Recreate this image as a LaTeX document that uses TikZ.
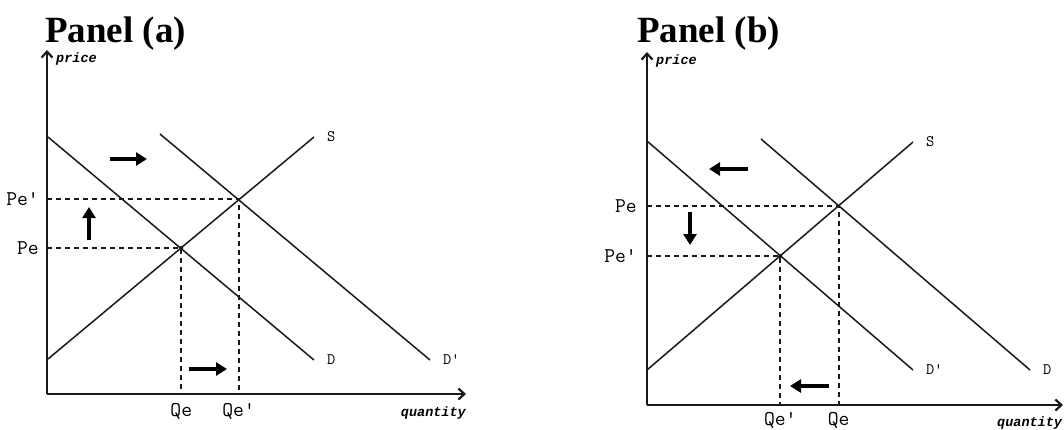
\documentclass[tikz,border=0pt]{standalone}
\usepackage{fontspec}
\setmainfont{Liberation Serif}
\newfontfamily\axisfont{Liberation Mono}
\usepackage{tikz}
\usetikzlibrary{arrows.meta, positioning, calc}
\definecolor{mydark}{RGB}{25,25,25}
\tikzset{
  axis/.style={-{Straight Barb[length=6pt,width=11pt]}, line width=2.2pt, color=mydark},
  curve/.style={line width=1.5pt, color=mydark},
  guide/.style={dash pattern=on 5pt off 4pt, line width=1.9pt, color=mydark},
  shiftarrow/.style={-{Triangle[length=11pt,width=13pt]}, line width=3.6pt, color=black},
  ticklabel/.style={font=\ttfamily\fontsize{21}{21}\selectfont, inner sep=1pt},
  curvelabel/.style={font=\ttfamily\fontsize{16}{16}\selectfont, inner sep=1pt},
  axislabel/.style={font=\axisfont\bfseries\itshape\fontsize{13.5}{13.5}\selectfont, inner sep=0pt},
  paneltitle/.style={font=\bfseries\fontsize{37}{37}\selectfont, anchor=base west, inner sep=0pt},
  eqdot/.style={circle, fill=mydark, inner sep=0pt, minimum size=4pt}
}
\begin{document}
\begin{tikzpicture}[x=1pt, y=-1pt]
  \useasboundingbox (0,0) rectangle (1064,429);

  % panel (a): demand rises
  \node[paneltitle] (atitle) at (45,42) {Panel (a)};
  \coordinate (aO) at (47,394);
  \coordinate (aY) at (47,50);
  \coordinate (aX) at (466,394);
  \draw[axis] (aO) -- (aY);
  \draw[axis] (aO) -- (aX);
  \node[axislabel, anchor=base west] (aprice) at (56,62) {price};
  \node[axislabel, anchor=base east] (aquant) at (466,416) {quantity};

  \coordinate (aDs) at (48,137);  \coordinate (aDe) at (314,360);
  \coordinate (aDDs) at (160,134); \coordinate (aDDe) at (430,360);
  \coordinate (aSs) at (48,359);  \coordinate (aSe) at (314,137);
  \draw[curve] (aDs) -- (aDe);
  \draw[curve] (aDDs) -- (aDDe);
  \draw[curve] (aSs) -- (aSe);
  \node[curvelabel, right=12pt of aDe] (aDlab) {D};
  \node[curvelabel, right=12pt of aDDe] (aDDlab) {D'};
  \node[curvelabel, right=12pt of aSe] (aSlab) {S};

  \coordinate (aE) at (181.3,248);
  \coordinate (aEE) at (238.6,199);
  \coordinate (aPe) at (47,248);  \coordinate (aPPe) at (47,199);
  \coordinate (aQe) at (181.3,394); \coordinate (aQQe) at (238.6,394);
  \draw[guide] (aPe) -- (aE) -- (aQe);
  \draw[guide] (aPPe) -- (aEE) -- (aQQe);
  \node[eqdot] (adot) at (aE) {};
  \node[ticklabel, left=7pt of aPe] (aPelab) {Pe};
  \node[ticklabel, left=7pt of aPPe] (aPPelab) {Pe'};
  \node[ticklabel, below=8pt of aQe] (aQelab) {Qe};
  \node[ticklabel, below=8pt of aQQe] (aQQelab) {Qe'};

  \coordinate (aA1s) at (110,159); \coordinate (aA1e) at (147,159);
  \coordinate (aA2s) at (89,240);  \coordinate (aA2e) at (89,207);
  \coordinate (aA3s) at (189,369); \coordinate (aA3e) at (227,369);
  \draw[shiftarrow] (aA1s) -- (aA1e);
  \draw[shiftarrow] (aA2s) -- (aA2e);
  \draw[shiftarrow] (aA3s) -- (aA3e);

  % panel (b): demand falls
  \node[paneltitle] (btitle) at (637,42) {Panel (b)};
  \coordinate (bO) at (647,405);
  \coordinate (bY) at (647,52);
  \coordinate (bX) at (1063,405);
  \draw[axis] (bO) -- (bY);
  \draw[axis] (bO) -- (bX);
  \node[axislabel, anchor=base west] (bprice) at (656,64) {price};
  \node[axislabel, anchor=base west] (bquant) at (997,426) {quantity};

  \coordinate (bDs) at (761,139);  \coordinate (bDe) at (1030,370);
  \coordinate (bDDs) at (647,141); \coordinate (bDDe) at (913,370);
  \coordinate (bSs) at (647,370);  \coordinate (bSe) at (913,142);
  \draw[curve] (bDs) -- (bDe);
  \draw[curve] (bDDs) -- (bDDe);
  \draw[curve] (bSs) -- (bSe);
  \node[curvelabel, right=12pt of bDe] (bDlab) {D};
  \node[curvelabel, right=12pt of bDDe] (bDDlab) {D'};
  \node[curvelabel, right=12pt of bSe] (bSlab) {S};

  \coordinate (bE) at (838.7,206);
  \coordinate (bEE) at (780.3,256);
  \coordinate (bPe) at (647,206);  \coordinate (bPPe) at (647,256);
  \coordinate (bQe) at (838.7,405); \coordinate (bQQe) at (780.3,405);
  \draw[guide] (bPe) -- (bE) -- (bQe);
  \draw[guide] (bPPe) -- (bEE) -- (bQQe);
  \node[eqdot] (bdot) at (bEE) {};
  \node[ticklabel, left=9pt of bPe] (bPelab) {Pe};
  \node[ticklabel, left=9pt of bPPe] (bPPelab) {Pe'};
  \node[ticklabel, below=6pt of bQe] (bQelab) {Qe};
  \node[ticklabel, below=6pt of bQQe] (bQQelab) {Qe'};

  \coordinate (bA1s) at (748,169); \coordinate (bA1e) at (709,169);
  \coordinate (bA2s) at (690,212); \coordinate (bA2e) at (690,245);
  \coordinate (bA3s) at (829,386); \coordinate (bA3e) at (790,386);
  \draw[shiftarrow] (bA1s) -- (bA1e);
  \draw[shiftarrow] (bA2s) -- (bA2e);
  \draw[shiftarrow] (bA3s) -- (bA3e);
\end{tikzpicture}
\end{document}
